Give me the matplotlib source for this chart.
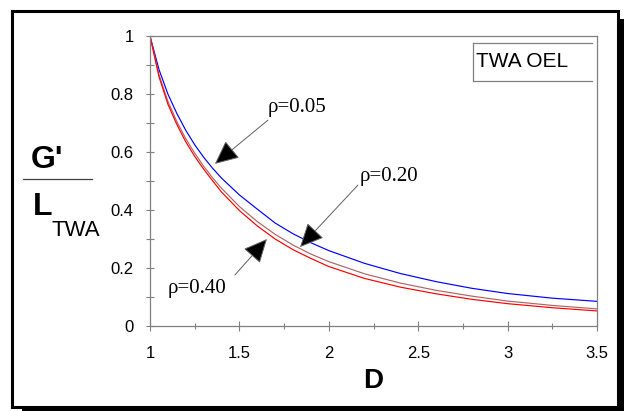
import numpy as np
import matplotlib.pyplot as plt
from matplotlib.patches import Rectangle
from matplotlib.lines import Line2D

plt.rcParams['font.family'] = ['Liberation Sans', 'DejaVu Sans']

# dimensionless duration D
D = [1.0, 1.05, 1.1, 1.15, 1.2, 1.25, 1.3, 1.35, 1.4, 1.5, 1.6, 1.7, 1.8, 1.9,
     2.0, 2.2, 2.4, 2.6, 2.8, 3.0, 3.25, 3.5]

# G'/L_TWA for three values of rho
g_rho005 = [1.0, 0.885, 0.80, 0.733, 0.675, 0.625, 0.582, 0.544, 0.510, 0.452, 0.403,
            0.355, 0.318, 0.287, 0.260, 0.216, 0.181, 0.153, 0.130, 0.112, 0.096, 0.085]
g_rho020 = [1.0, 0.867, 0.775, 0.705, 0.646, 0.596, 0.551, 0.511, 0.475, 0.412, 0.36,
            0.316, 0.279, 0.248, 0.222, 0.180, 0.148, 0.123, 0.103, 0.086, 0.071, 0.059]
g_rho040 = [1.0, 0.86, 0.765, 0.695, 0.635, 0.585, 0.541, 0.501, 0.462, 0.398, 0.345,
            0.300, 0.263, 0.233, 0.205, 0.164, 0.134, 0.111, 0.092, 0.077, 0.063, 0.052]

W, H = 624, 411
fig = plt.figure(figsize=(W / 100, H / 100), dpi=100)


def fx(px):
    return px / W


def fy(py):
    return 1 - py / H


# framed panel with drop shadow
fig.add_artist(Rectangle((fx(22), fy(411)), fx(602), 392 / H, transform=fig.transFigure,
                         facecolor='black', edgecolor='none', zorder=-3))
fig.add_artist(Rectangle((fx(11.5), fy(406.5)), fx(606), 395 / H, transform=fig.transFigure,
                         facecolor='white', edgecolor='black', linewidth=2.2, zorder=-2))

ax = fig.add_axes([fx(150), fy(326), 447 / W, 290 / H])
ax.set_facecolor('none')

ax.plot(D, g_rho005, color='#0000ff', lw=0.85)
ax.plot(D, g_rho020, color='#b06464', lw=0.85)
ax.plot(D, g_rho040, color='#ff0000', lw=0.85)

ax.set_xlim(1, 3.5)
ax.set_ylim(0, 1)
ax.set_xticks([1, 1.5, 2, 2.5, 3, 3.5])
ax.set_xticklabels(['1', '1.5', '2', '2.5', '3', '3.5'])
ax.set_xticks(np.arange(1.25, 3.5, 0.5), minor=True)
ax.set_yticks([0, 0.2, 0.4, 0.6, 0.8, 1])
ax.set_yticklabels(['0', '0.2', '0.4', '0.6', '0.8', '1'])
ax.set_yticks([0.1, 0.3, 0.5, 0.7, 0.9], minor=True)

for s in ax.spines.values():
    s.set_color('#808080')
    s.set_linewidth(0.9)

ax.tick_params(axis='x', which='major', direction='inout', length=7, width=0.8,
               color='#808080', labelsize=12, pad=11)
ax.tick_params(axis='x', which='minor', direction='inout', length=5, width=0.8,
               color='#808080')
ax.tick_params(axis='y', which='both', direction='inout', length=5.5, width=0.8,
               color='#808080', labelsize=12, pad=9)

# legend box (open on the right side)
ax.add_line(Line2D([2.806, 3.472], [0.976, 0.976], color='#808080', lw=0.9))
ax.add_line(Line2D([2.806, 3.472], [0.845, 0.845], color='#808080', lw=0.9))
ax.add_line(Line2D([2.806, 2.806], [0.845, 0.976], color='#808080', lw=0.9))
ax.text(2.822, 0.912, 'TWA OEL', fontsize=15, va='center', ha='left')

# rho annotations
serif = ['Liberation Serif', 'DejaVu Serif']
arrow = dict(arrowstyle='-|>,head_length=1.5,head_width=0.7', fc='black',
             ec='#606060', lw=0.7, shrinkA=0, shrinkB=0, mutation_scale=10)

ax.text(1.66, 0.755, 'ρ=0.05', family=serif, fontsize=15, va='center', ha='left')
ax.annotate('', xy=(1.363, 0.559), xytext=(1.66, 0.71), arrowprops=arrow)

ax.text(2.174, 0.517, 'ρ=0.20', family=serif, fontsize=15, va='center', ha='left')
ax.annotate('', xy=(1.839, 0.272), xytext=(2.163, 0.486), arrowprops=arrow)

ax.text(1.10, 0.128, 'ρ=0.40', family=serif, fontsize=15, va='center', ha='left')
ax.annotate('', xy=(1.654, 0.30), xytext=(1.475, 0.176), arrowprops=arrow)

# axis titles
fig.text(fx(373), fy(381), 'D', fontsize=20, fontweight='bold', ha='center', va='center')
fig.text(fx(47), fy(160), "G'", fontsize=23, fontweight='bold', ha='center', va='center')
fig.add_artist(Line2D([fx(23), fx(92)], [fy(179), fy(179)], color='#404040', lw=0.9,
                      transform=fig.transFigure))
fig.text(fx(33), fy(215), 'L', fontsize=23, fontweight='bold', ha='left', va='baseline')
fig.text(fx(51), fy(236), 'TWA', fontsize=16, ha='left', va='baseline')

fig.savefig('out.png', dpi=100)
